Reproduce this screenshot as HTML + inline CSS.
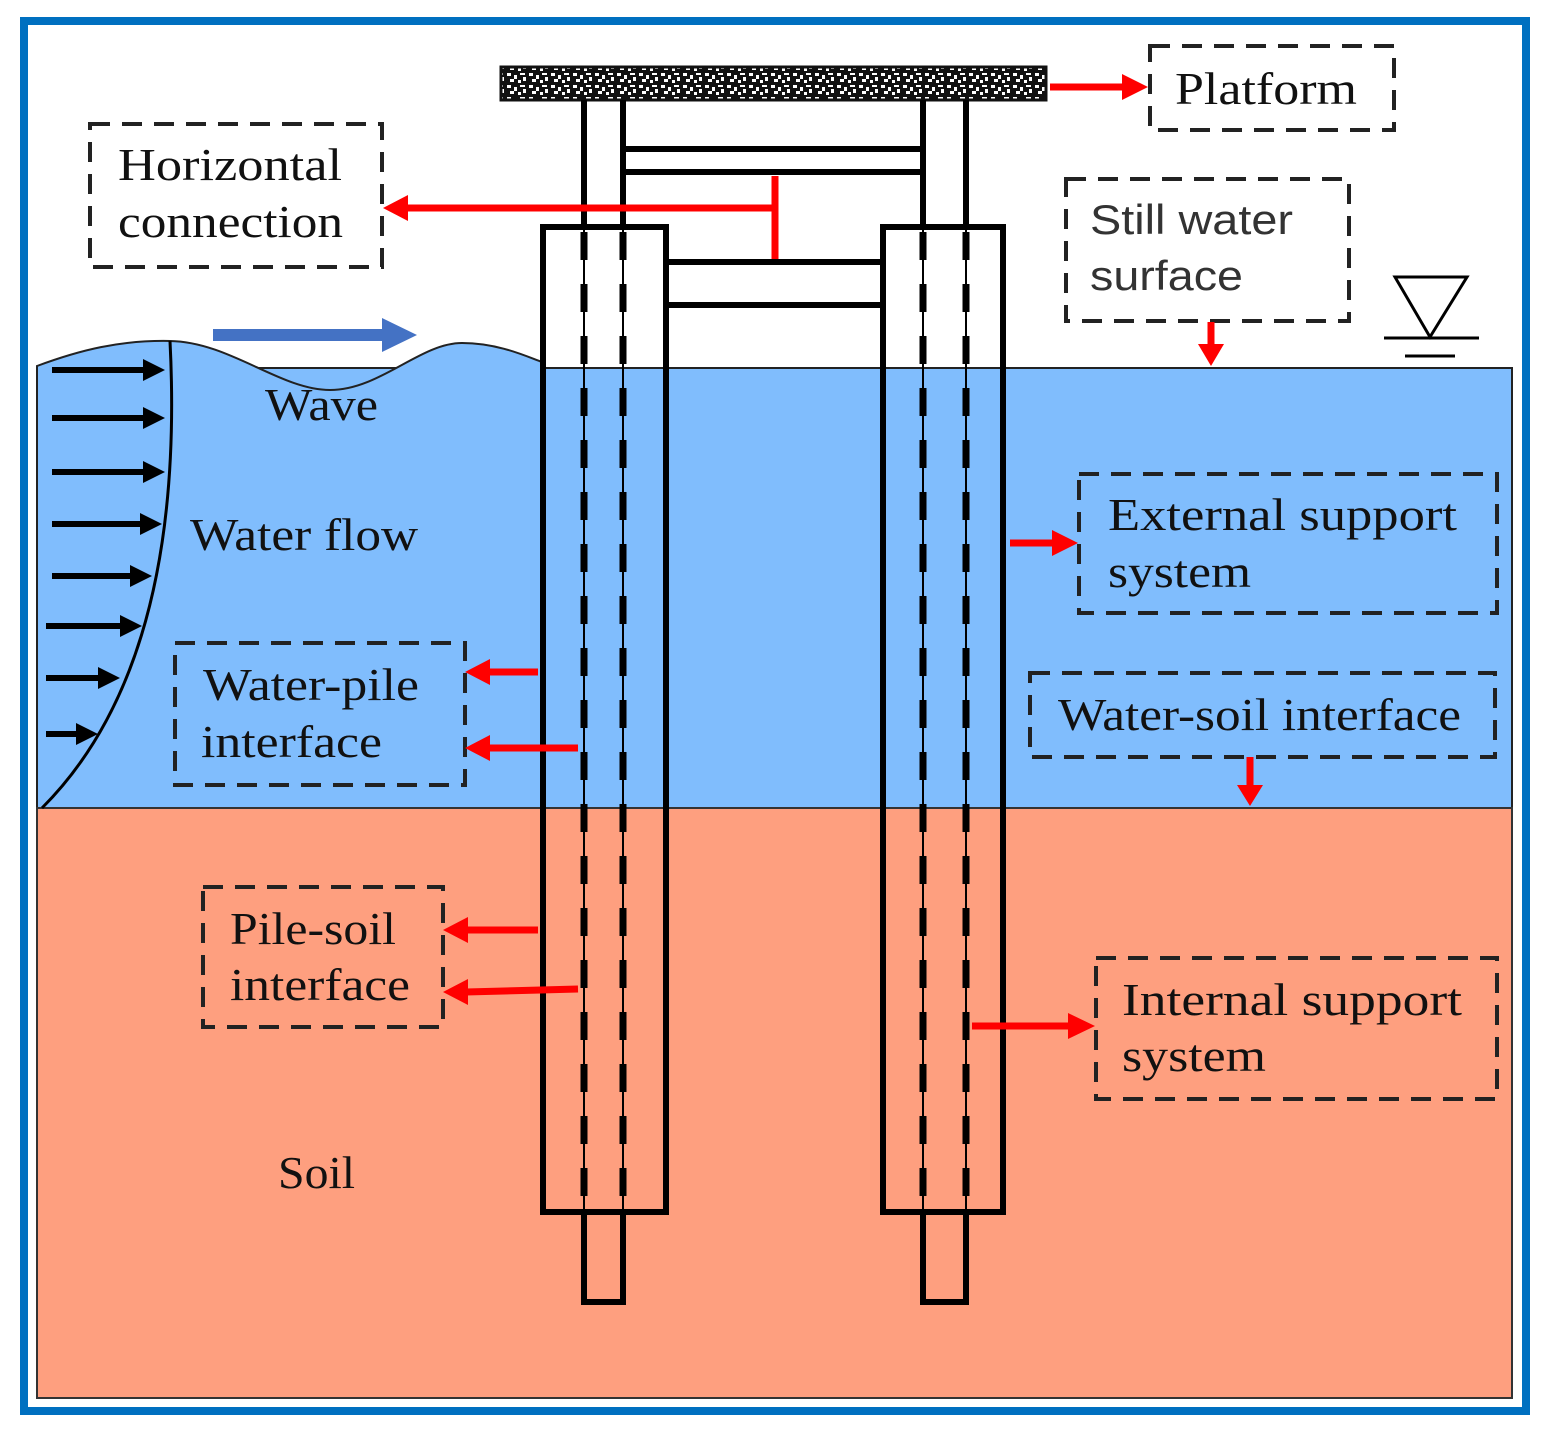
<!DOCTYPE html>
<html><head><meta charset="utf-8"><style>
html,body{margin:0;padding:0;background:#fff}
svg{display:block}
text{font-family:"Liberation Serif",serif;font-size:46px;fill:#111}
.s{font-family:"Liberation Sans",sans-serif;font-size:42px;fill:#333}
</style></head><body>
<svg width="1550" height="1441" viewBox="0 0 1550 1441" xmlns="http://www.w3.org/2000/svg">
<defs>
<pattern id="sp" width="22" height="12" patternUnits="userSpaceOnUse">
<rect width="22" height="12" fill="#111"/>
<rect x="1" y="1" width="4" height="3" fill="#fff"/><rect x="8" y="3" width="3" height="4" fill="#fff"/>
<rect x="14" y="1" width="5" height="2" fill="#fff"/><rect x="4" y="7" width="4" height="3" fill="#fff"/>
<rect x="12" y="8" width="3" height="3" fill="#fff"/><rect x="17" y="5" width="3" height="4" fill="#fff"/>
</pattern>
</defs>
<rect x="24" y="21" width="1502" height="1390" fill="#fff" stroke="#0070c0" stroke-width="8"/>
<rect x="37" y="368" width="1475" height="440" fill="#80bdfd" stroke="#222" stroke-width="2"/>
<path d="M37,366 C80,350 120,340 170,341 C230,342 280,390 330,390 C380,390 420,343 462,343 C500,343 530,358 542,362 L542,808 L37,808 Z" fill="#80bdfd" stroke="#222" stroke-width="2"/>
<rect x="37" y="808" width="1475" height="590" fill="#fe9f7f" stroke="#333" stroke-width="2"/>
<path d="M170,341 C178,500 160,690 42,808" fill="none" stroke="#000" stroke-width="3"/>
<g stroke="#000" stroke-width="6">
<line x1="52" y1="370" x2="145" y2="370"/><line x1="52" y1="418" x2="145" y2="418"/>
<line x1="52" y1="472" x2="145" y2="472"/><line x1="52" y1="524" x2="142" y2="524"/>
<line x1="52" y1="576" x2="132" y2="576"/><line x1="46" y1="626" x2="122" y2="626"/>
<line x1="46" y1="678" x2="100" y2="678"/><line x1="46" y1="734" x2="80" y2="734"/>
</g>
<g fill="#000">
<polygon points="143,359 165,370 143,381"/><polygon points="143,407 165,418 143,429"/>
<polygon points="143,461 165,472 143,483"/><polygon points="140,513 162,524 140,535"/>
<polygon points="130,565 152,576 130,587"/><polygon points="120,615 142,626 120,637"/>
<polygon points="98,667 120,678 98,689"/><polygon points="76,723 98,734 76,745"/>
</g>
<rect x="213" y="329" width="170" height="12" fill="#4472c4"/>
<polygon points="382,318 417,335 382,352" fill="#4472c4"/>
<rect x="501" y="67" width="545" height="33" fill="url(#sp)" stroke="#111" stroke-width="3"/>
<g fill="none" stroke="#000" stroke-width="6">
<line x1="584" y1="100" x2="584" y2="226"/><line x1="623" y1="100" x2="623" y2="226"/>
<line x1="923" y1="100" x2="923" y2="226"/><line x1="966" y1="100" x2="966" y2="226"/>
<rect x="543" y="227" width="123" height="985"/>
<rect x="883" y="227" width="120" height="985"/>
<path d="M584,1212 L584,1302 L623,1302 L623,1212"/>
<path d="M923,1212 L923,1302 L966,1302 L966,1212"/>
<line x1="623" y1="149" x2="923" y2="149"/><line x1="623" y1="172" x2="923" y2="172"/>
<line x1="667" y1="262" x2="883" y2="262"/><line x1="667" y1="305" x2="883" y2="305"/>
</g>
<g stroke="#000">
<g stroke-width="2"><line x1="584" y1="226" x2="584" y2="1212"/><line x1="623" y1="226" x2="623" y2="1212"/><line x1="923" y1="226" x2="923" y2="1212"/><line x1="966" y1="226" x2="966" y2="1212"/></g>
<g stroke-width="7" stroke-dasharray="28 24"><line x1="584" y1="232" x2="584" y2="1210"/><line x1="623" y1="232" x2="623" y2="1210"/><line x1="923" y1="232" x2="923" y2="1210"/><line x1="966" y1="232" x2="966" y2="1210"/></g>
</g>
<g stroke="#000" stroke-width="3" fill="none">
<polygon points="1395,277 1467,277 1430,337"/>
<line x1="1384" y1="338" x2="1479" y2="338"/><line x1="1405" y1="356" x2="1455" y2="356"/>
</g>
<g fill="none" stroke="#222" stroke-width="4" stroke-dasharray="20 12">
<rect x="1150" y="46" width="244" height="84"/>
<rect x="90" y="124" width="292" height="143"/>
<rect x="1066" y="179" width="283" height="142"/>
<rect x="1079" y="474" width="418" height="139"/>
<rect x="1030" y="673" width="465" height="84"/>
<rect x="175" y="643" width="290" height="142"/>
<rect x="203" y="887" width="240" height="140"/>
<rect x="1096" y="958" width="401" height="141"/>
</g>
<g stroke="#f00" stroke-width="7" fill="none">
<line x1="1050" y1="87" x2="1125" y2="87"/>
<line x1="775" y1="176" x2="775" y2="259"/>
<line x1="775" y1="208" x2="405" y2="208"/>
<line x1="1211" y1="322" x2="1211" y2="348"/>
<line x1="1010" y1="543" x2="1055" y2="543"/>
<line x1="1250" y1="757" x2="1250" y2="788"/>
<line x1="538" y1="672" x2="488" y2="672"/>
<line x1="578" y1="748" x2="488" y2="748"/>
<line x1="538" y1="930" x2="466" y2="930"/>
<line x1="578" y1="989" x2="466" y2="992"/>
<line x1="972" y1="1026" x2="1070" y2="1026"/>
</g>
<g fill="#f00">
<polygon points="1122,74 1148,87 1122,100"/>
<polygon points="408,195 383,208 408,221"/>
<polygon points="1198,344 1211,366 1224,344"/>
<polygon points="1052,530 1078,543 1052,556"/>
<polygon points="1237,785 1250,806 1263,785"/>
<polygon points="490,659 465,672 490,685"/>
<polygon points="490,735 465,748 490,761"/>
<polygon points="468,917 443,930 468,943"/>
<polygon points="468,979 443,992 468,1005"/>
<polygon points="1068,1013 1095,1026 1068,1039"/>
</g>
<text x="1175" y="104" textLength="182" lengthAdjust="spacingAndGlyphs">Platform</text>
<text x="118" y="180" textLength="224" lengthAdjust="spacingAndGlyphs">Horizontal</text>
<text x="118" y="237" textLength="225" lengthAdjust="spacingAndGlyphs">connection</text>
<text class="s" x="1090" y="234" textLength="203" lengthAdjust="spacingAndGlyphs">Still water</text>
<text class="s" x="1090" y="290" textLength="153" lengthAdjust="spacingAndGlyphs">surface</text>
<text x="265" y="420" textLength="113" lengthAdjust="spacingAndGlyphs">Wave</text>
<text x="190" y="550" textLength="228" lengthAdjust="spacingAndGlyphs">Water flow</text>
<text x="1108" y="530" textLength="349" lengthAdjust="spacingAndGlyphs">External support</text>
<text x="1108" y="587" textLength="143" lengthAdjust="spacingAndGlyphs">system</text>
<text x="1058" y="730" textLength="403" lengthAdjust="spacingAndGlyphs">Water-soil interface</text>
<text x="203" y="700" textLength="216" lengthAdjust="spacingAndGlyphs">Water-pile</text>
<text x="201" y="757" textLength="181" lengthAdjust="spacingAndGlyphs">interface</text>
<text x="230" y="944" textLength="166" lengthAdjust="spacingAndGlyphs">Pile-soil</text>
<text x="230" y="1000" textLength="180" lengthAdjust="spacingAndGlyphs">interface</text>
<text x="1122" y="1015" textLength="340" lengthAdjust="spacingAndGlyphs">Internal support</text>
<text x="1122" y="1071" textLength="144" lengthAdjust="spacingAndGlyphs">system</text>
<text x="278" y="1188" textLength="77" lengthAdjust="spacingAndGlyphs">Soil</text>
</svg>
</body></html>
